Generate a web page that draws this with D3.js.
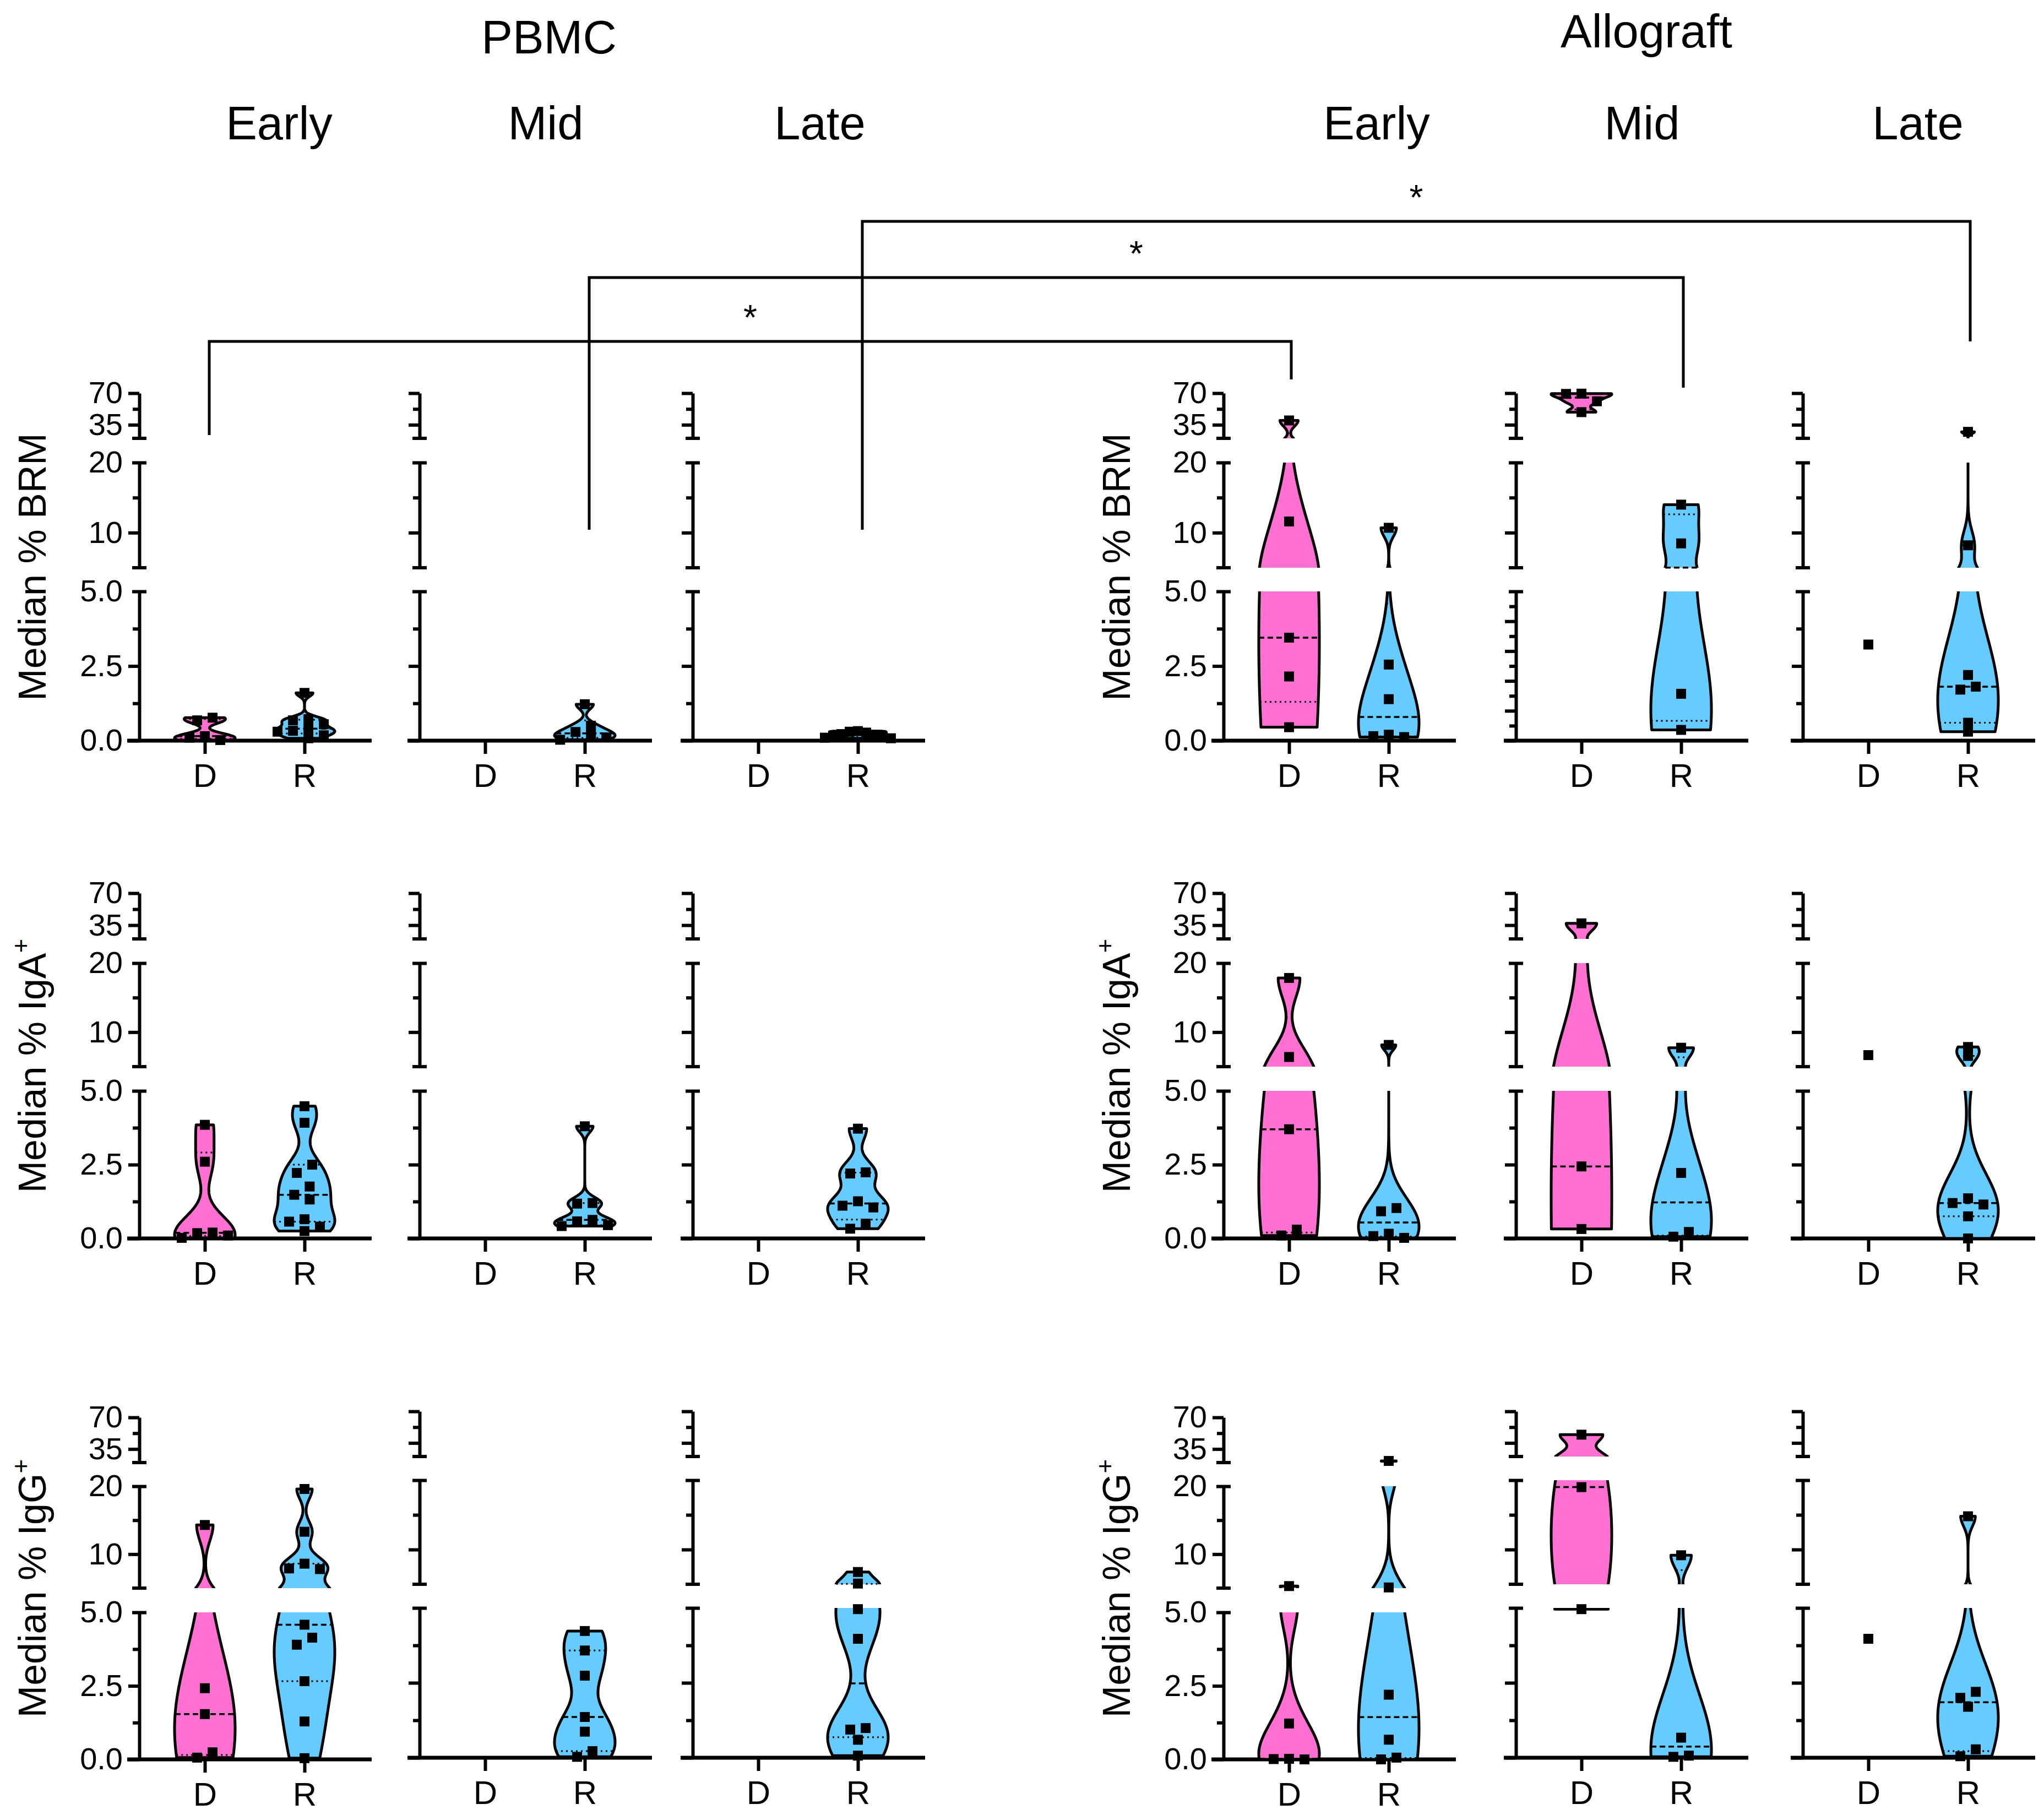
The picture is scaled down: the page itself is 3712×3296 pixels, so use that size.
<!DOCTYPE html>
<html><head><meta charset="utf-8">
<script src="https://cdn.jsdelivr.net/npm/d3@7"></script>
<style>body{margin:0;background:#fff}</style>
</head><body>
<svg id="chart" width="3712" height="3296"></svg>
<script>
// ---------------- DATA ----------------
const groups = ["D", "R"];
const timepoints = ["Early", "Mid", "Late"];
const tissues = ["PBMC", "Allograft"];
const measureNames = ["BRM", "IgA", "IgG"];

// Median % BRM
const brmPbmcEarlyD = [0.77, 0.68, 0.15, 0.1, 0.02];
const brmPbmcEarlyR = [1.6, 0.72, 0.68, 0.55, 0.4, 0.33, 0.3, 0.18, 0.08];
const brmPbmcMidD = [];
const brmPbmcMidR = [1.22, 0.5, 0.29, 0.2, 0.11, 0.03];
const brmPbmcLateD = [];
const brmPbmcLateR = [0.32, 0.3, 0.27, 0.22, 0.2, 0.17, 0.14, 0.1, 0.08];
const brmAlloEarlyD = [39.8, 11.6, 3.45, 2.15, 0.45];
const brmAlloEarlyR = [10.7, 2.55, 1.39, 0.2, 0.15, 0.12];
const brmAlloMidD = [69.5, 69.2, 61, 49];
const brmAlloMidR = [14.0, 8.47, 1.57, 0.36];
const brmAlloLateD = [3.22];
const brmAlloLateR = [27.2, 8.2, 2.2, 1.81, 1.71, 0.6, 0.3];

// Median % IgA+
const igaPbmcEarlyD = [3.85, 2.6, 0.2, 0.18, 0.1, 0.02];
const igaPbmcEarlyR = [4.48, 3.92, 2.5, 2.22, 1.76, 1.48, 1.32, 0.65, 0.57, 0.4, 0.25];
const igaPbmcMidD = [];
const igaPbmcMidR = [3.8, 1.2, 1.18, 0.63, 0.58, 0.45, 0.42];
const igaPbmcLateD = [];
const igaPbmcLateR = [3.72, 2.24, 2.2, 1.26, 1.11, 1.05, 0.5, 0.33];
const igaAlloEarlyD = [17.85, 6.4, 3.7, 0.3, 0.1];
const igaAlloEarlyR = [8.15, 1.03, 0.92, 0.16, 0.08, 0.02];
const igaAlloMidD = [37, 2.44, 0.32];
const igaAlloMidR = [7.74, 2.22, 0.22, 0.06];
const igaAlloLateD = [6.67];
const igaAlloLateR = [7.85, 6.55, 1.36, 1.2, 1.15, 0.75, 0.0];

// Median % IgG+
const iggPbmcEarlyD = [14.3, 2.42, 1.54, 0.24, 0.06];
const iggPbmcEarlyR = [19.6, 13.3, 8.6, 7.9, 7.8, 4.58, 4.14, 3.9, 2.66, 1.29, 0.04];
const iggPbmcMidD = [];
const iggPbmcMidR = [4.23, 3.58, 2.74, 1.36, 0.87, 0.22, 0.03];
const iggPbmcLateD = [];
const iggPbmcLateR = [6.77, 5.1, 4.96, 3.97, 0.99, 0.94, 0.6, 0.07];
const iggAlloEarlyD = [5.3, 1.22, 0.02, 0.01, 0.0];
const iggAlloEarlyR = [21.8, 5.1, 2.2, 0.67, 0.06, 0.0];
const iggAlloMidD = [44.2, 19, 4.96];
const iggAlloMidR = [9.18, 0.67, 0.07, 0.03];
const iggAlloLateD = [3.97];
const iggAlloLateR = [14.8, 2.2, 2.0, 1.7, 0.28, 0.05];

// broken y axis: three segments
const segDomains = [[0, 5], [5, 20], [20, 70]];
const bottomMajorTicks = [0, 2.5, 5];
const bottomMinorTicks = [1.25, 3.75];
const bottomFineMajorTicks = [0, 1, 2, 3, 4, 5];
const bottomFineMinorTicks = [0.5, 1.5, 2.5, 3.5, 4.5];
const midMajorTicks = [10, 20];
const midMinorTicks = [15];
const topMajorTicks = [35, 70];
const topMinorTicks = [52.5];

// significance brackets: [col, group] -> [col, group]
const sigFrom = [[0, "D"], [1, "R"], [2, "R"]];
const sigTo = [[3, "D"], [4, "R"], [5, "R"]];
const sigLabels = ["*", "*", "*"];

// build table [measure][col] -> [Dvals, Rvals]
const panelData = [
  [[brmPbmcEarlyD, brmPbmcEarlyR], [brmPbmcMidD, brmPbmcMidR], [brmPbmcLateD, brmPbmcLateR],
   [brmAlloEarlyD, brmAlloEarlyR], [brmAlloMidD, brmAlloMidR], [brmAlloLateD, brmAlloLateR]],
  [[igaPbmcEarlyD, igaPbmcEarlyR], [igaPbmcMidD, igaPbmcMidR], [igaPbmcLateD, igaPbmcLateR],
   [igaAlloEarlyD, igaAlloEarlyR], [igaAlloMidD, igaAlloMidR], [igaAlloLateD, igaAlloLateR]],
  [[iggPbmcEarlyD, iggPbmcEarlyR], [iggPbmcMidD, iggPbmcMidR], [iggPbmcLateD, iggPbmcLateR],
   [iggAlloEarlyD, iggAlloEarlyR], [iggAlloMidD, iggAlloMidR], [iggAlloLateD, iggAlloLateR]]
];

// ---------------- LAYOUT ----------------
const W = 3712, H = 3296;
const FONT = "'Liberation Sans', Arial, Helvetica, sans-serif";
const colors = { D: "#FF70D2", R: "#66CCFF" };
const colX = [253, 762, 1258, 2222, 2753, 3274];
// per row: [y(0), y(5) bottom seg, y(5) mid seg, y(20) mid seg, y(20) top seg, y(70)]
const rowLayout = [
  [1345, 1074, 1031, 840, 796, 714],
  [2249, 1981, 1937, 1749, 1705, 1622],
  [3195, 2928, 2884, 2699, 2656, 2574]
];
const row3Alt = [3192, 2920, 2877, 2688, 2645, 2563];
function layoutFor(r, c) {
  if (r === 2 && c !== 0 && c !== 3) return row3Alt;
  return rowLayout[r];
}
const timeTitleX = [507, 991, 1489, 2500, 2982, 3483];
const tissueTitlePos = [[997, 97], [2990, 86]];
const sigLineY = [620, 504, 402];
const sigFromEnd = [790, 962, 962];
const sigToEnd = [689, 704, 620];

const svg = d3.select("#chart");
svg.append("rect").attr("width", W).attr("height", H).attr("fill", "#fff");
const defs = svg.append("defs");

// ---------------- HELPERS ----------------
function quant(s, q) {
  const n = s.length, p = q * (n + 1);
  if (p <= 1) return s[0];
  if (p >= n) return s[n - 1];
  const i = Math.floor(p);
  return s[i - 1] + (p - i) * (s[i] - s[i - 1]);
}
function kdeFactory(s) {
  const n = s.length;
  const sd = d3.deviation(s);
  const iqr = quant(s, 0.75) - quant(s, 0.25);
  let spread = Math.min(sd, iqr / 1.34);
  if (!(spread > 0)) spread = sd;
  const h = 0.6 * 0.9 * spread * Math.pow(n, -0.2);
  return v => d3.sum(s, xi => Math.exp(-0.5 * ((v - xi) / h) ** 2));
}
function segIndex(v) { return v <= 5 ? 0 : (v <= 20 ? 1 : 2); }

function drawViolin(g, vals, cx, scales, color, clipId) {
  const s = vals.slice().sort(d3.ascending);
  const lo = s[0], hi = s[s.length - 1];
  const dens = kdeFactory(s);
  const samples = [];
  segDomains.forEach((dom, i) => {
    const a = Math.max(dom[0], lo), b = Math.min(dom[1], hi);
    if (a > b) return;
    const N = 160;
    for (let k = 0; k <= N; k++) {
      const v = a + (b - a) * k / N;
      samples.push({ v, y: scales[i](v), d: dens(v) });
    }
  });
  const maxD = d3.max(samples, d => d.d);
  const HW = 55;
  const wOf = v => HW * dens(v) / maxD;
  const right = samples.map(d => [cx + HW * d.d / maxD, d.y]);
  const left = samples.slice().reverse().map(d => [cx - HW * d.d / maxD, d.y]);
  g.append("path")
    .attr("d", d3.line()(right.concat(left)) + "Z")
    .attr("fill", color).attr("stroke", "#000").attr("stroke-width", 5)
    .attr("stroke-linejoin", "round")
    .attr("clip-path", `url(#${clipId})`);
  [[0.5, "10 6", 3.5], [0.25, "3 6", 3], [0.75, "3 6", 3]].forEach(([q, dash, sw]) => {
    const v = quant(s, q);
    const y = scales[segIndex(v)](v);
    const w = wOf(v);
    g.append("line").attr("x1", cx - w).attr("x2", cx + w).attr("y1", y).attr("y2", y)
      .attr("stroke", "#000").attr("stroke-width", sw).attr("stroke-dasharray", dash);
  });
}

function swarm(vals, cx, scales) {
  const pts = vals.map(v => ({ v, y: scales[segIndex(v)](v) })).sort((a, b) => a.y - b.y);
  const DX = 28, DY = 16, placed = [];
  const cands = [0];
  for (let k = 14; k <= 300; k += 14) cands.push(-k, k);
  pts.forEach(p => {
    for (const o of cands) {
      if (placed.every(q => Math.abs(q.o - o) >= DX || Math.abs(q.y - p.y) >= DY)) { p.o = o; break; }
    }
    placed.push(p);
  });
  const clusters = []; let cl = [];
  pts.forEach((p, i) => {
    if (i > 0 && p.y - pts[i - 1].y >= DY) { clusters.push(cl); cl = []; }
    cl.push(p);
  });
  if (cl.length) clusters.push(cl);
  clusters.forEach(c => { const m = d3.mean(c, p => p.o); c.forEach(p => p.o = p.o - m); });
  const maxO = d3.max(pts, p => Math.abs(p.o));
  const k = maxO > 60 ? 60 / maxO : 1;
  pts.forEach(p => p.x = cx + p.o * k);
  return pts;
}

// ---------------- PANELS ----------------
function drawPanel(r, c) {
  const ax = colX[c];
  const L = layoutFor(r, c);
  const labelled = (c === 0 || c === 3);
  const scales = [
    d3.scaleLinear().domain(segDomains[0]).range([L[0], L[1]]),
    d3.scaleLinear().domain(segDomains[1]).range([L[2], L[3]]),
    d3.scaleLinear().domain(segDomains[2]).range([L[4], L[5]])
  ];
  const x = d3.scalePoint().domain(groups).range([ax + 119, ax + 300]);
  const g = svg.append("g");

  const clipId = `clip-${r}-${c}`;
  const cp = defs.append("clipPath").attr("id", clipId);
  cp.append("rect").attr("x", ax).attr("width", 430).attr("y", L[1]).attr("height", L[0] + 8 - L[1]);
  cp.append("rect").attr("x", ax).attr("width", 430).attr("y", L[3]).attr("height", L[2] - L[3]);
  cp.append("rect").attr("x", ax).attr("width", 430).attr("y", L[5] - 8).attr("height", L[4] - L[5] + 8);

  const fine = (r === 0 && c === 4);
  const segMajor = [fine ? bottomFineMajorTicks : bottomMajorTicks, midMajorTicks, topMajorTicks];
  const segMinor = [fine ? bottomFineMinorTicks : bottomMinorTicks, midMinorTicks, topMinorTicks];
  const segCaps = [[5], [5, 20], [20]];
  const fmts = [d3.format(".1f"), d3.format("d"), d3.format("d")];
  const labelledTicks = [[0, 2.5, 5], [10, 20], [35, 70]];
  scales.forEach((sc, i) => {
    const ya = g.append("g").attr("transform", `translate(${ax},0)`)
      .call(d3.axisLeft(sc).tickValues(segMajor[i]).tickSize(20).tickSizeOuter(0).tickPadding(10)
        .tickFormat(v => (labelled && labelledTicks[i].includes(v)) ? fmts[i](v) : ""));
    ya.select(".domain").attr("stroke-width", 6);
    ya.selectAll(".tick line").attr("stroke-width", 6)
      .filter(v => segCaps[i].includes(v)).attr("x1", 13).attr("x2", -13);
    ya.selectAll(".tick text").attr("font-family", FONT).attr("font-size", 56).attr("fill", "#000");
    const ym = g.append("g").attr("transform", `translate(${ax},0)`)
      .call(d3.axisLeft(sc).tickValues(segMinor[i]).tickSize(12).tickSizeOuter(0).tickFormat(""));
    ym.select(".domain").remove();
    ym.selectAll(".tick line").attr("stroke-width", 6);
    segCaps[i].filter(v => !segMajor[i].includes(v)).forEach(v => {
      g.append("line").attr("x1", ax - 13).attr("x2", ax + 13).attr("y1", sc(v)).attr("y2", sc(v))
        .attr("stroke", "#000").attr("stroke-width", 6);
    });
  });

  g.append("line").attr("x1", ax - 22).attr("x2", ax + 422).attr("y1", L[0]).attr("y2", L[0])
    .attr("stroke", "#000").attr("stroke-width", 7);
  const xa = g.append("g").attr("transform", `translate(0,${L[0]})`)
    .call(d3.axisBottom(x).tickSize(24).tickSizeOuter(0));
  xa.select(".domain").remove();
  xa.selectAll(".tick line").attr("stroke-width", 6);
  xa.selectAll(".tick text").attr("y", 84).attr("dy", null)
    .attr("font-family", FONT).attr("font-size", 60).attr("fill", "#000");

  const pair = panelData[r][c];
  groups.forEach((grp, gi) => {
    const vals = pair[gi];
    if (!vals.length) return;
    const cx = x(grp);
    if (vals.length >= 3) drawViolin(g, vals, cx, scales, colors[grp], clipId);
    const pts = swarm(vals, cx, scales);
    g.selectAll(null).data(pts).enter().append("rect")
      .attr("x", p => p.x - 9).attr("y", p => p.y - 9).attr("width", 18).attr("height", 18)
      .attr("fill", "#000");
  });
  return { x, L };
}

const panelInfo = [];
for (let r = 0; r < 3; r++) {
  panelInfo[r] = [];
  for (let c = 0; c < 6; c++) panelInfo[r][c] = drawPanel(r, c);
}

const yTitles = [["Median % BRM", ""], ["Median % IgA", "+"], ["Median % IgG", "+"]];
for (let r = 0; r < 3; r++) {
  [0, 3].forEach(c => {
    const L = layoutFor(r, c);
    const cy = (L[0] + L[5]) / 2;
    const bx = colX[c] - 170;
    const t = svg.append("text").attr("transform", `translate(${bx},${cy}) rotate(-90)`)
      .attr("text-anchor", "middle").attr("font-family", FONT).attr("font-size", 70).attr("fill", "#000");
    t.append("tspan").text(yTitles[r][0]);
    if (yTitles[r][1]) t.append("tspan").attr("font-size", 44).attr("dy", -30).text(yTitles[r][1]);
  });
}

tissues.forEach((tn, i) => {
  svg.append("text").attr("x", tissueTitlePos[i][0]).attr("y", tissueTitlePos[i][1])
    .attr("text-anchor", "middle").attr("font-family", FONT).attr("font-size", 85).text(tn);
});
for (let c = 0; c < 6; c++) {
  svg.append("text").attr("x", timeTitleX[c]).attr("y", 253)
    .attr("text-anchor", "middle").attr("font-family", FONT).attr("font-size", 85).text(timepoints[c % 3]);
}

sigFrom.forEach((f, i) => {
  const t = sigTo[i];
  const x1 = panelInfo[0][f[0]].x(f[1]) + 8;
  const x2 = panelInfo[0][t[0]].x(t[1]) + 4;
  const y = sigLineY[i];
  svg.append("path")
    .attr("d", `M${x1},${sigFromEnd[i]}V${y}H${x2}V${sigToEnd[i]}`)
    .attr("fill", "none").attr("stroke", "#000").attr("stroke-width", 5);
  svg.append("text").attr("x", (x1 + x2) / 2).attr("y", y - 21)
    .attr("text-anchor", "middle").attr("font-family", FONT).attr("font-size", 64).text(sigLabels[i]);
});
</script>
</body></html>
